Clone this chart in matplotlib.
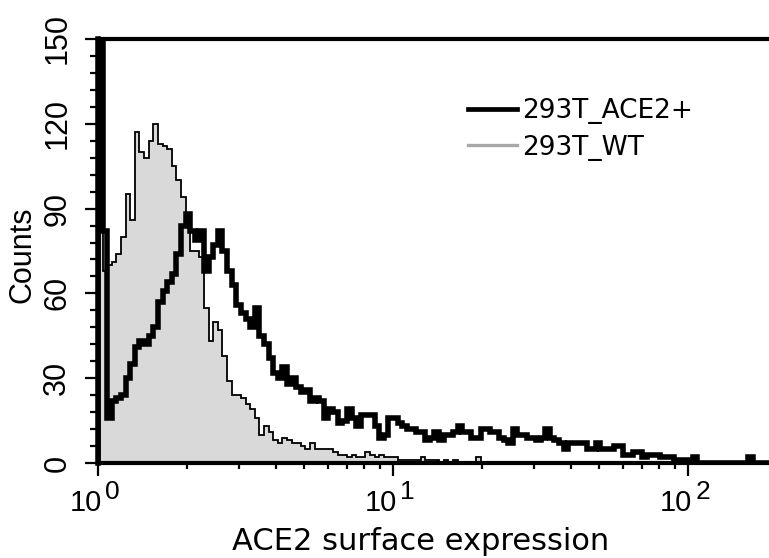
import numpy as np
import matplotlib
matplotlib.use('Agg')
import matplotlib.pyplot as plt
from matplotlib.ticker import MultipleLocator, LogLocator, NullFormatter
from matplotlib.lines import Line2D

plt.rcParams['font.family'] = ['Liberation Sans', 'DejaVu Sans']

# histogram channels: 64 per decade starting at 10^0
CH_PER_DECADE = 64
N_BINS = 146

# 293T_WT counts per channel
wt_counts = [
    160, 68, 70, 71, 74, 80, 95, 86, 117, 110,
    108, 114, 120, 113, 112, 111, 105, 100, 94, 84,
    75, 75, 73, 55, 43, 50, 47, 38, 29, 24,
    24, 23, 21, 19, 16, 10, 13, 11, 8, 7,
    9, 8, 7, 7, 6, 5, 7, 5, 5, 5,
    5, 4, 3, 3, 2, 3, 2, 2, 4, 3,
    2, 3, 2, 2, 2, 1, 1, 1, 1, 1,
    2, 1, 1, 1, 0, 1, 0, 1, 0, 0,
    0, 0, 2, 0, 0, 0, 0, 0, 0, 0,
    0, 0, 0, 0, 0, 0, 0, 0, 0, 0,
    0, 0, 0, 0, 0, 0, 0, 0, 0, 0,
    0, 0, 0, 0, 0, 0, 0, 0, 0, 0,
    0, 0, 0, 0, 0, 0, 0, 0, 0, 0,
    0, 0, 0, 0, 0, 0, 0, 0, 0, 0,
    0, 0, 0, 0, 0, 0,
]

# 293T_ACE2+ counts per channel
ace2_counts = [
    170, 82, 16, 22, 23, 24, 30, 35, 41, 43,
    42, 45, 48, 57, 61, 64, 67, 74, 84, 88,
    82, 79, 82, 68, 73, 77, 82, 75, 68, 63,
    56, 53, 51, 48, 55, 45, 42, 37, 32, 30,
    34, 28, 30, 27, 25, 26, 22, 23, 22, 16,
    19, 18, 14, 15, 19, 16, 13, 17, 17, 17,
    13, 9, 10, 16, 16, 14, 13, 12, 12, 11,
    11, 8, 9, 11, 8, 10, 10, 11, 13, 11,
    11, 9, 9, 12, 12, 11, 11, 9, 8, 7,
    12, 10, 10, 9, 9, 8, 9, 12, 9, 8,
    7, 5, 7, 7, 7, 7, 5, 5, 7, 5,
    5, 5, 6, 6, 3, 3, 4, 4, 2, 3,
    3, 3, 2, 2, 2, 1, 1, 1, 1, 2,
    0, 0, 0, 0, 0, 0, 0, 0, 0, 0,
    0, 2, 0, 0, 0, 0,
]

labels = ['293T_ACE2+', '293T_WT']
x_label = 'ACE2 surface expression'
y_label = 'Counts'
decades = [0, 1, 2]

edges = 10 ** (np.arange(N_BINS + 1) / CH_PER_DECADE)

fig = plt.figure(figsize=(7.69, 5.58), dpi=100)
ax = fig.add_axes([98 / 769, 1 - 463 / 558, 1 - 98 / 769, (463 - 39) / 558])

ax.stairs(wt_counts, edges, fill=True, color='#d9d9d9', zorder=1)
ax.stairs(wt_counts, edges, color='black', linewidth=1.3, zorder=2)
ax.stairs(ace2_counts, edges, color='black', linewidth=4.0, zorder=3)

ax.set_xscale('log')
ax.set_xlim(1, 10 ** ((769 - 98) / 295))
ax.set_ylim(0, 150)

ax.spines['right'].set_visible(False)
ax.spines['top'].set_linewidth(3)
ax.spines['bottom'].set_linewidth(3)
ax.spines['left'].set_linewidth(4)

ax.yaxis.set_major_locator(MultipleLocator(30))
ax.yaxis.set_minor_locator(MultipleLocator(6))
ax.tick_params(axis='y', which='major', length=9.5, width=1.6, labelsize=22,
               labelrotation=90, pad=9)
ax.tick_params(axis='y', which='minor', length=5.5, width=1.6)
for t in ax.get_yticklabels():
    t.set_va('center')

ax.xaxis.set_major_locator(LogLocator(base=10, numticks=10))
ax.xaxis.set_minor_locator(LogLocator(base=10, subs=np.arange(2, 10), numticks=20))
ax.xaxis.set_major_formatter(NullFormatter())
ax.xaxis.set_minor_formatter(NullFormatter())
ax.tick_params(axis='x', which='major', length=9.5, width=1.6)
ax.tick_params(axis='x', which='minor', length=4.5, width=1.6)

# 10^k labels drawn as "10" plus a large raised exponent
xtr = ax.get_xaxis_transform()
for k in decades:
    ax.annotate('10', xy=(10 ** k, 0), xycoords=xtr, xytext=(-9, -29),
                textcoords='offset points', ha='center', va='center',
                fontsize=21, annotation_clip=False)
    ax.annotate(str(k), xy=(10 ** k, 0), xycoords=xtr, xytext=(10.5, -21),
                textcoords='offset points', ha='center', va='center',
                fontsize=19, annotation_clip=False)

ax.set_xlabel(x_label, fontsize=22, family='DejaVu Sans')
ax.xaxis.set_label_coords(0.481, -0.152)
ax.set_ylabel(y_label, fontsize=22)
ax.yaxis.set_label_coords(-0.09, 0.49)

handles = [Line2D([], [], color='black', linewidth=3.4),
           Line2D([], [], color='#a8a8a8', linewidth=2.4)]
ax.legend(handles, labels, loc='upper left', bbox_to_anchor=(468 / 769, 1 - 98 / 558),
          bbox_transform=fig.transFigure, frameon=False, borderpad=0,
          borderaxespad=0, handlelength=1.85, handletextpad=0.2, labelspacing=0.4,
          prop={'family': 'DejaVu Sans', 'size': 19})

fig.savefig('out.png', dpi=100)
